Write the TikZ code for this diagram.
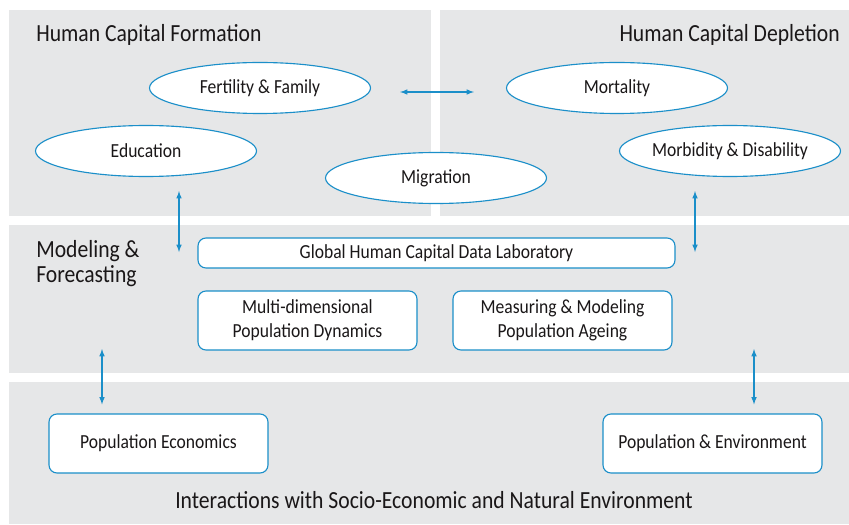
\documentclass[tikz,border=0pt]{standalone}
\usepackage{fontspec}
\setmainfont{Carlito}[FakeStretch=0.88]
\usetikzlibrary{shapes.geometric}
\definecolor{panelgray}{HTML}{E6E7E8}
\definecolor{linkblue}{HTML}{1B8FC9}
\definecolor{inkgray}{HTML}{1A1718}
\tikzset{
	fit ellipse/.style={
		draw=linkblue,
		fill=white,
		ellipse,
		line width=0.8pt,
		inner sep =+ 0pt,
		minimum width = 5.525cm,
		minimum height = 1.275cm,
		font=\fontsize{14.2}{17}\selectfont
	},
	fit rounded/.style={
		draw=linkblue,
		fill=white,
		rounded corners=0.2cm,
		line width=0.8pt,
		align=center,
		inner sep =+ 0pt,
		minimum width = 5.475cm,
		minimum height = 1.475cm,
		font=\fontsize{14.2}{17}\selectfont
	},
	panel title/.style={
		inner sep =+ 0pt,
		align=left,
		font=\fontsize{17.5}{17.7}\selectfont
	},
	both ways/.style={
		latex-latex,
		draw=linkblue,
		line width=0.8pt
	}
}

\begin{document}
\begin{tikzpicture}[text=inkgray]

\useasboundingbox (0,0) rectangle (21.225,13.1);

% grey panels
\fill[panelgray] (0.225,7.7)  rectangle (10.775,12.85);
\fill[panelgray] (11.0,7.7)   rectangle (21.225,12.85);
\fill[panelgray] (0.225,3.775) rectangle (21.225,7.475);
\fill[panelgray] (0.225,0.0)  rectangle (21.225,3.55);

% panel headings
\node[panel title, anchor=west] (formation) at (0.9,12.225) {Human Capital Formation};
\node[panel title, anchor=east] (depletion) at (21.0,12.225) {Human Capital Depletion};
\node[panel title, anchor=west] (modeling)  at (0.9,6.5) {Modeling \&\\Forecasting};
\node[panel title] (interactions) at (10.85,0.6) {Interactions with Socio-Economic and Natural Environment};

% formation / depletion
\node[fit ellipse] (fert) at (6.5,10.9)    {Fertility \& Family};
\node[fit ellipse] (edu)  at (3.65,9.325)  {Education};
\node[fit ellipse] (mig)  at (10.9,8.65)   {Migration};
\node[fit ellipse] (mort) at (15.425,10.9) {Mortality};
\node[fit ellipse] (morb) at (18.25,9.325) {Morbidity \& Disability};

% modeling & forecasting
\node[fit rounded, minimum width=11.925cm, minimum height=0.75cm] (lab) at (10.9125,6.775)
	{Global Human Capital Data Laboratory};
\node[fit rounded] (dyn)    at (7.6875,5.0875)  {Multi-dimensional\\Population Dynamics};
\node[fit rounded] (ageing) at (14.0625,5.0875) {Measuring \& Modeling\\Population Ageing};

% interactions
\node[fit rounded] (econ) at (3.9625,2.0125)  {Population Economics};
\node[fit rounded] (env)  at (17.8125,2.0125) {Population \& Environment};

% arrow ends
\coordinate (edu-end)  at (4.475,6.8);
\coordinate (morb-end) at (17.375,6.8);
\coordinate (econ-top) at (2.55,4.375);
\coordinate (env-top)  at (18.85,4.375);

\draw[both ways, shorten <=0.725cm, shorten >=0.8cm]
	([yshift=-0.1cm]fert.east) -- ([yshift=-0.1cm]mort.west);
\draw[both ways, shorten <=0.35cm] (edu-end |- edu.south) -- (edu-end);
\draw[both ways, shorten <=0.35cm] (morb-end |- morb.south) -- (morb-end);
\draw[both ways, shorten >=0.225cm] (econ-top) -- (econ-top |- econ.north);
\draw[both ways, shorten >=0.225cm] (env-top) -- (env-top |- env.north);

\end{tikzpicture}
\end{document}
